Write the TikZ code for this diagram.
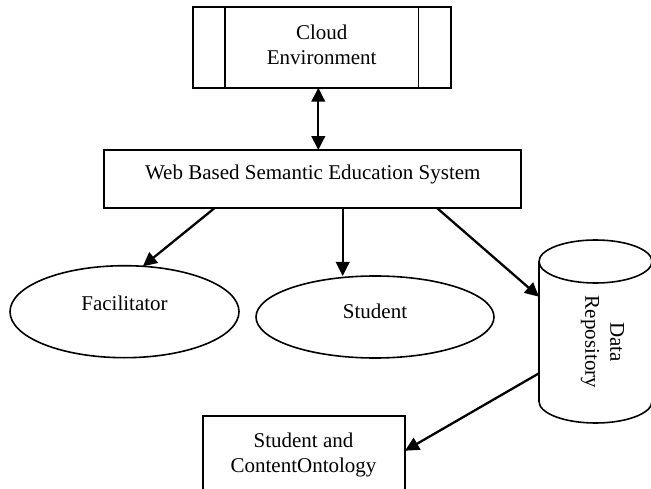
\documentclass[tikz,border=0pt]{standalone}
\usepackage{fontspec}
\setmainfont{Liberation Serif}
\usetikzlibrary{arrows.meta,shapes.geometric}
\begin{document}
\begin{tikzpicture}[x=1pt,y=-1pt,
  box/.style={draw, line width=2pt, inner sep=0pt, outer sep=0pt},
  ell/.style={draw, ellipse, line width=1.6pt, inner sep=0pt, outer sep=0pt},
  txt/.style={font=\fontsize{21}{25}\selectfont, inner sep=0pt, align=center},
  arr/.style={line width=2.3pt, -{Triangle[length=14pt,width=13.5pt]}},
  darr/.style={line width=2.3pt, {Triangle[length=14pt,width=13.5pt]}-{Triangle[length=14pt,width=13.5pt]}}]
\useasboundingbox (0,0) rectangle (651,489);
\clip (0,0) rectangle (651,489);
\fill[white] (0,0) rectangle (651,489);

% Cloud environment box
\node[box, minimum width=258pt, minimum height=80.4pt] (cloud) at (321.7,47.5) {};
\draw[line width=1.3pt] ([xshift=32.3pt]cloud.north west) -- ([xshift=32.3pt]cloud.south west);
\draw[line width=1.3pt] ([xshift=-32pt]cloud.north east) -- ([xshift=-32pt]cloud.south east);
\node[txt, anchor=north] (cloudt) at (321.7,24.3) {Cloud\\Environment};

% Web system box
\node[box, minimum width=416.4pt, minimum height=57.7pt] (web) at (312.5,178.9) {};
\node[txt, anchor=base] (webt) at (312.8,179.3) {Web Based Semantic Education System};

% Ellipses
\node[ell, minimum width=229pt, minimum height=92pt,
  label={[txt,yshift=8.4pt]center:Facilitator}] (fac) at (124.5,311.7) {};
\node[ell, minimum width=238pt, minimum height=82pt,
  label={[txt,yshift=5.3pt]center:Student}] (stu) at (375,317) {};

% Data repository cylinder
\draw[line width=1.6pt] (595.5,261.5) ellipse [x radius=56.5pt, y radius=21.5pt];
\draw[line width=1.6pt] (539,261.5) -- (539,401.5)
  arc[start angle=180, end angle=360, x radius=56.5pt, y radius=21.5pt] -- (652,261.5);
\node[minimum width=113pt, minimum height=140pt, inner sep=0pt, outer sep=0pt] (repo) at (595.5,331.5) {};
\node[txt, rotate=-90] (repot) at (602.5,342) {Data\\Repository};

% Ontology box (cut by the lower edge)
\node[box, minimum width=202.3pt, minimum height=90pt, anchor=north west] (onto) at (202.7,415.7) {};
\node[txt, anchor=north] (ontot) at (303.5,432.7) {Student and\\ContentOntology};

% Connectors
\coordinate (ca) at ([xshift=-3.4pt]cloud.south);
\draw[darr] (ca) -- (ca |- web.north);
\coordinate (w1) at ([xshift=110.7pt]web.south west);
\draw[arr] (w1) -- (fac.68);
\coordinate (w2) at ([xshift=238.4pt]web.south west);
\draw[arr] (w2) -- (w2 |- stu.north);
\coordinate (w3) at ([xshift=332.4pt]web.south west);
\draw[arr] (w3) -- ([yshift=34.8pt]repo.west);
\draw[arr] ([yshift=-41.8pt]repo.west) -- ([yshift=10pt]onto.east);
\end{tikzpicture}
\end{document}
